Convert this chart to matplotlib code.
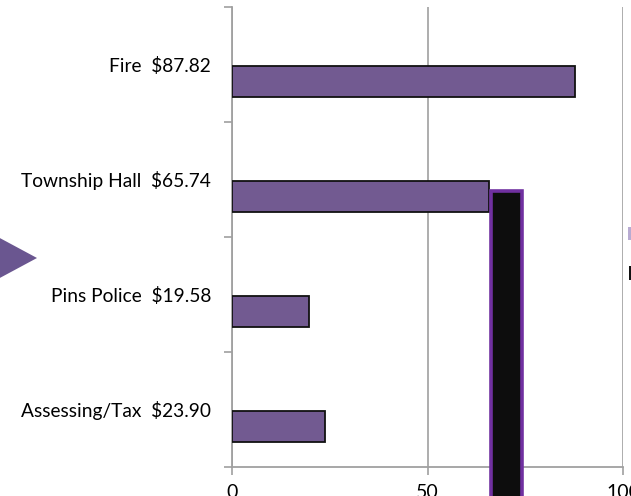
import matplotlib
matplotlib.use("Agg")
import matplotlib.pyplot as plt
from matplotlib.patches import Rectangle, Polygon

categories = ["Fire", "Township Hall", "Pins Police", "Assessing/Tax"]
values = [87.82, 65.74, 19.58, 23.90]
xticks = [0, 50, 100]
labels = [f"{c}  ${v:.2f}" for c, v in zip(categories, values)]

plt.rcParams['font.family'] = ['Lato', 'DejaVu Sans']
W, H = 631, 496
fig = plt.figure(figsize=(W/100, H/100), dpi=100)
ax = fig.add_axes([232/W, 1-467/H, (623-232)/W, (467-7)/H])

bar_color = "#725A91"
grey = "#A0A0A0"
n = len(categories)
centers = [i + 0.5 + 0.148 for i in range(n)]
ax.barh(centers, values, height=0.27, color=bar_color, edgecolor="#111111",
        linewidth=1.3, zorder=3)

ax.set_xlim(0, 100)
ax.set_ylim(n, 0)
ax.set_xticks(xticks)
ax.set_xticklabels([str(t) for t in xticks], fontsize=14)
ax.set_yticks(range(n+1))
ax.set_yticklabels([])
ax.set_yticks([i + 0.5 for i in range(n)], minor=True)
ax.set_yticklabels(labels, minor=True, fontsize=13.8)
ax.tick_params(axis='y', which='major', length=6, color=grey, width=1.2, direction='out')
ax.tick_params(axis='y', which='minor', length=0, pad=15)
ax.tick_params(axis='x', length=6, color=grey, width=1.2, pad=6)
for s in ['top', 'right']:
    ax.spines[s].set_visible(False)
for s in ['left', 'bottom']:
    ax.spines[s].set_color(grey)
    ax.spines[s].set_linewidth(1.3)
ax.grid(axis='x', color=grey, linewidth=1.2, zorder=0)
ax.set_axisbelow(True)

# overlay shape (black block with purple border)
block_x0, block_x1, block_top = 66.2, 74.2, 1.60
ax.add_patch(Rectangle((block_x0, block_top), block_x1-block_x0, 3.0,
                       facecolor="#0D0D0D", edgecolor="#7030A0", linewidth=2.6,
                       clip_on=False, zorder=5))

# left triangle decoration (figure pixels)
tri = Polygon([(-30/W, 1-222/H), (37/W, 1-258/H), (-30/W, 1-294/H)],
              closed=True, transform=fig.transFigure, facecolor="#6A5690",
              edgecolor="none")
fig.patches.append(tri)

# cut-off legend marks on right edge
fig.patches.append(Rectangle((628/W, 1-240/H), 4/W, 13/H, transform=fig.transFigure,
                             facecolor="#B8ABD2", edgecolor="none"))
fig.patches.append(Rectangle((629/W, 1-280/H), 3/W, 14/H, transform=fig.transFigure,
                             facecolor="#111111", edgecolor="none"))

fig.savefig("out.png", dpi=100)
